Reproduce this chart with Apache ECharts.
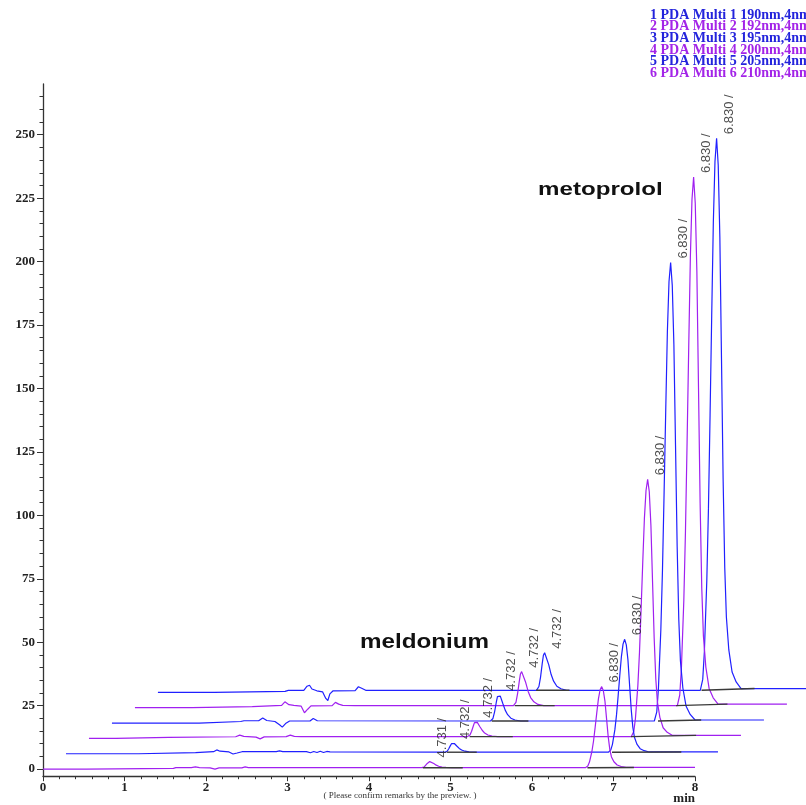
<!DOCTYPE html>
<html><head><meta charset="utf-8">
<script src="https://cdn.jsdelivr.net/npm/echarts@6/dist/echarts.min.js"></script>
<style>html,body{margin:0;padding:0;background:#fff}#c{width:806px;height:805px}</style>
</head><body><div id="c"></div>
<script>
// ---------- DATA (real retention time [min], signal [mAU] relative to each trace) ----------
const traceNames = [
  '1 PDA Multi 1 190nm,4nm',
  '2 PDA Multi 2 192nm,4nm',
  '3 PDA Multi 3 195nm,4nm',
  '4 PDA Multi 4 200nm,4nm',
  '5 PDA Multi 5 205nm,4nm',
  '6 PDA Multi 6 210nm,4nm'
];
const trace1 = [[0,0],[0.69,0],[0.7,0.4],[1.56,0.4],[1.6,0.8],[1.79,0.8],[1.83,2.4],[1.86,2.8],[1.89,1.3],[1.95,0.6],[2.02,0.2],[2.06,-2.4],[2.085,-3.2],[2.11,-0.6],[2.15,0.6],[2.42,0.7],[2.46,2.2],[2.5,1.6],[2.55,0.8],[4.645,0.8],
  [4.675,2.3],[4.695,6.0],[4.715,11.2],[4.73,14.6],[4.745,15.6],[4.765,14.9],[4.795,10.9],[4.825,7.0],[4.855,4.4],[4.895,2.4],[4.945,1.4],[5.015,0.8],[6.655,0.8],
  [6.685,5.1],[6.705,16.0],[6.735,44.2],[6.755,72.4],[6.775,109.3],[6.795,148.4],[6.815,185.3],[6.835,209.1],[6.855,218.4],[6.875,207.7],[6.895,179.4],[6.915,131.7],[6.935,84.0],[6.955,49.2],[6.975,29.7],[7.005,16.7],[7.045,8.0],[7.095,4.1],[7.155,1.5],[8.0,1.5]];
const trace2 = [[0,0],[0.7,0],[0.71,0.4],[1.44,0.4],[1.46,0.9],[1.8,0.9],[1.84,2.3],[1.86,2.6],[1.89,1.2],[1.95,0.9],[2.04,0.6],[2.08,-2.0],[2.1,-2.6],[2.12,-0.6],[2.16,0.7],[2.42,0.8],[2.46,2.1],[2.5,1.4],[2.55,0.9],[2.7,0.8],[4.645,0.8],
  [4.675,2.1],[4.695,5.5],[4.715,10.2],[4.73,13.3],[4.745,14.2],[4.765,13.5],[4.795,9.9],[4.825,6.4],[4.855,4.0],[4.895,2.3],[4.945,1.3],[5.015,0.8],[6.655,0.8],
  [6.685,5.0],[6.705,15.4],[6.735,42.4],[6.755,69.4],[6.775,104.7],[6.795,142.1],[6.815,177.4],[6.835,200.3],[6.855,209.1],[6.875,198.8],[6.895,171.8],[6.915,126.1],[6.935,80.4],[6.955,47.1],[6.975,28.4],[7.005,16.0],[7.045,7.6],[7.095,3.9],[7.155,1.4],[8.0,1.4]];
const trace3 = [[0,0],[1.07,0],[1.09,0.6],[1.58,0.6],[1.62,0.9],[1.8,0.9],[1.85,2.0],[1.9,1.0],[2.0,0.6],[2.06,-0.8],[2.09,-1.6],[2.13,-0.2],[2.18,0.8],[2.43,0.8],[2.47,1.8],[2.52,0.9],[4.645,0.8],
  [4.675,1.8],[4.695,4.4],[4.715,8.0],[4.73,10.4],[4.745,11.1],[4.765,10.6],[4.795,7.8],[4.825,5.1],[4.855,3.3],[4.895,1.9],[4.945,1.2],[5.015,0.8],[6.655,0.8],
  [6.685,4.4],[6.705,13.4],[6.735,36.9],[6.755,60.3],[6.775,91.0],[6.795,123.4],[6.815,154.1],[6.835,173.9],[6.855,181.5],[6.875,172.5],[6.895,149.1],[6.915,109.4],[6.935,69.7],[6.955,40.9],[6.975,24.6],[7.005,13.8],[7.045,6.6],[7.095,3.4],[7.155,1.2],[8.0,1.2]];
const trace4 = [[0,0],[0.33,0],[0.35,0.4],[0.98,0.4],[1.0,0.65],[1.8,0.65],[1.85,1.3],[1.9,0.8],[2.05,0.5],[2.1,-0.2],[2.15,0.6],[2.42,0.7],[2.47,1.3],[2.52,0.8],[2.6,0.7],[4.645,0.7],
  [4.675,1.3],[4.695,2.8],[4.715,4.8],[4.73,6.2],[4.745,6.6],[4.765,6.3],[4.795,4.7],[4.825,3.2],[4.855,2.1],[4.895,1.35],[4.945,0.95],[5.015,0.7],[6.655,0.7],
  [6.685,2.7],[6.705,7.8],[6.735,20.9],[6.755,34.0],[6.775,51.2],[6.795,69.4],[6.815,86.6],[6.835,97.7],[6.855,102.1],[6.875,97.2],[6.895,84.0],[6.915,61.8],[6.935,39.6],[6.955,23.4],[6.975,14.3],[7.005,8.3],[7.045,4.2],[7.095,2.4],[7.155,1.2],[8.0,1.2]];
const trace5 = [[0,0],[0.89,0],[0.91,0.4],[1.59,0.4],[1.61,0.8],[1.81,0.8],[1.85,1.5],[1.89,1.0],[2.0,0.7],[2.05,-0.1],[2.1,0.3],[2.16,0.8],[2.58,0.8],[2.62,1.1],[2.66,0.8],[2.95,0.8],[3.0,0.4],[3.04,0.9],[3.08,0.5],[3.12,1.0],[3.16,0.5],[3.2,0.9],[3.24,0.7],[4.645,0.6],
  [4.675,0.96],[4.695,1.86],[4.715,3.1],[4.73,3.95],[4.745,4.2],[4.765,4.02],[4.795,3.05],[4.825,2.1],[4.855,1.46],[4.895,1.0],[4.945,0.74],[5.015,0.6],[6.655,0.6],
  [6.685,1.5],[6.705,3.7],[6.735,9.5],[6.755,15.3],[6.775,22.8],[6.795,30.8],[6.815,38.3],[6.835,43.2],[6.855,45.1],[6.875,42.9],[6.895,37.1],[6.915,27.3],[6.935,17.6],[6.955,10.5],[6.975,6.5],[7.005,3.8],[7.045,2.0],[7.095,1.2],[7.155,0.7],[8.0,0.7]];
const trace6 = [[0,0],[0.53,0],[0.55,0.3],[1.6,0.3],[1.63,0.6],[1.82,0.6],[1.87,0.9],[1.92,0.6],[2.05,0.5],[2.11,0.0],[2.16,0.5],[2.44,0.5],[2.48,0.9],[2.52,0.55],[4.645,0.55],
  [4.675,0.79],[4.695,1.39],[4.715,2.23],[4.73,2.78],[4.745,2.95],[4.765,2.83],[4.795,2.18],[4.825,1.56],[4.855,1.13],[4.895,0.81],[4.945,0.65],[5.015,0.55],[6.655,0.55],
  [6.685,1.19],[6.705,2.78],[6.735,6.93],[6.755,11.08],[6.775,16.5],[6.795,22.24],[6.815,27.67],[6.835,31.17],[6.855,32.5],[6.875,30.96],[6.895,26.81],[6.915,19.79],[6.935,12.77],[6.955,7.67],[6.975,4.8],[7.005,2.88],[7.045,1.61],[7.095,1.03],[7.155,0.65],[8.0,0.65]];
const traces = [trace1, trace2, trace3, trace4, trace5, trace6];

// integration baselines drawn under the peaks: [[tStart, v], [tEnd, v]]
const meldBaselines = [[[4.64,0.8],[5.05,0.8]],[[4.66,0.8],[5.15,0.8]],[[4.66,0.8],[5.11,0.8]],[[4.67,0.7],[5.2,0.7]],[[4.67,0.6],[5.04,0.6]],[[4.66,0.55],[5.15,0.55]]];
const metBaselines  = [[[6.67,0.8],[7.32,1.5]],[[6.64,0.8],[7.27,1.4]],[[6.7,0.8],[7.23,1.2]],[[6.65,0.7],[7.45,1.2]],[[6.7,0.6],[7.55,0.7]],[[6.68,0.55],[7.25,0.65]]];

// peak retention-time labels
const meldLabels = ['4.732 /','4.732 /','4.732 /','4.732 /','4.732 /','4.731 /'];
const metLabels  = ['6.830 /','6.830 /','6.830 /','6.830 /','6.830 /','6.830 /'];
const meldWindow = [4.6, 5.1];
const metWindow  = [6.6, 7.2];

// axis ticks
const xRange = [0, 8];
const yRange = [-3, 270];
const yMajorTicks = [0,25,50,75,100,125,150,175,200,225,250];
const yMinorTicks = [0,5,10,15,20,25,30,35,40,45,50,55,60,65,70,75,80,85,90,95,100,105,110,115,120,125,130,135,140,145,150,155,160,165,170,175,180,185,190,195,200,205,210,215,220,225,230,235,240,245,250,255,260,265];

// ---------- STYLE / LAYOUT ----------
const X_STEP = 0.282;   // 3D-view horizontal shift per trace (min)
const Y_STEP = 6.05;    // 3D-view vertical shift per trace (mAU)
const lineColors = ['#2020ff','#a020f0','#2020ff','#a020f0','#2020ff','#a020f0'];
const legendColors = ['#2424dc','#a324e8','#2424dc','#a324e8','#2424dc','#a324e8'];
const serif = '"Liberation Serif","Times New Roman",serif';
const sans = '"Liberation Sans",Arial,sans-serif';
const PLOT_LEFT = 43, PLOT_TOP = 84, PLOT_BOTTOM = 28.3, AXIS_WIDTH = 652;
const PX_PER_MIN = AXIS_WIDTH / (xRange[1] - xRange[0]);
const DATA_XMAX = (806 - PLOT_LEFT) / PX_PER_MIN; // the offset traces run past the 8-min axis end

function shift(k) { return p => [p[0] + k * X_STEP, p[1] + k * Y_STEP]; }
function apex(tr, win) {
  let best = null;
  tr.forEach(p => { if (p[0] >= win[0] && p[0] <= win[1] && (!best || p[1] > best[1])) best = p; });
  return best;
}

const series = [];
traces.forEach((tr, i) => {
  const k = traces.length - 1 - i;
  series.push({
    type: 'line', name: traceNames[i], data: tr.map(shift(k)), xAxisIndex: 0, yAxisIndex: 0,
    showSymbol: false, symbol: 'none', clip: false, silent: true,
    lineStyle: { color: lineColors[i], width: 1.2 }, itemStyle: { color: lineColors[i] }, z: 2
  });
});
traces.forEach((tr, i) => {
  const k = traces.length - 1 - i;
  [meldBaselines[i], metBaselines[i]].forEach(seg => {
    series.push({
      type: 'line', data: seg.map(shift(k)), xAxisIndex: 0, yAxisIndex: 0,
      showSymbol: false, symbol: 'none', clip: false, silent: true,
      lineStyle: { color: '#3a3a3a', width: 1.4 }, z: 3
    });
  });
});
const labelData = [];
traces.forEach((tr, i) => {
  const k = traces.length - 1 - i;
  labelData.push({ value: shift(k)(apex(tr, meldWindow)), name: meldLabels[i] });
  labelData.push({ value: shift(k)(apex(tr, metWindow)), name: metLabels[i] });
});
series.push({
  type: 'scatter', data: labelData, symbolSize: 1, clip: false, silent: true, xAxisIndex: 0, yAxisIndex: 0,
  itemStyle: { color: 'rgba(0,0,0,0)' }, z: 4,
  label: { show: true, formatter: '{b}', rotate: 90, position: [13, -3.5], align: 'left', verticalAlign: 'middle',
           fontFamily: sans, fontSize: 13, color: '#222' }
});

const chart = echarts.init(document.getElementById('c'), null, { renderer: 'canvas' });
chart.setOption({
  animation: false,
  backgroundColor: '#fff',
  grid: [
    { left: PLOT_LEFT, right: 0, top: PLOT_TOP, bottom: PLOT_BOTTOM, containLabel: false, outerBoundsMode: 'none' },
    { left: PLOT_LEFT, width: AXIS_WIDTH, top: PLOT_TOP, bottom: PLOT_BOTTOM, containLabel: false, outerBoundsMode: 'none' }
  ],
  legend: {
    orient: 'vertical', left: 645, top: 8, icon: 'none', itemWidth: 0, itemHeight: 8, itemGap: -2.3,
    selectedMode: false, padding: 0,
    textStyle: { fontFamily: serif, fontWeight: 'bold', fontSize: 14 },
    data: traceNames.map((n, i) => ({ name: n, textStyle: { color: legendColors[i] } }))
  },
  xAxis: [
    { type: 'value', gridIndex: 0, min: xRange[0], max: DATA_XMAX, show: false },
    {
      type: 'value', gridIndex: 1, min: xRange[0], max: xRange[1], interval: 1,
      axisLine: { onZero: false, lineStyle: { color: '#333', width: 1.3 } },
      axisTick: { show: true, length: 4.5, lineStyle: { color: '#333' } },
      minorTick: { show: true, splitNumber: 5, length: 2.5, lineStyle: { color: '#333' } },
      axisLabel: { margin: 4, fontFamily: serif, fontWeight: 'bold', fontSize: 13, color: '#222' },
      splitLine: { show: false }, minorSplitLine: { show: false }
    }
  ],
  yAxis: [
    { type: 'value', gridIndex: 0, min: yRange[0], max: yRange[1], show: false },
    {
      type: 'value', gridIndex: 1, min: yRange[0], max: yRange[1], position: 'left',
      axisLine: { show: true, onZero: false, lineStyle: { color: '#333', width: 1.3 } },
      axisTick: { show: true, customValues: yMajorTicks, length: 6, lineStyle: { color: '#333' } },
      axisLabel: { customValues: yMajorTicks, margin: 8, fontFamily: serif, fontWeight: 'bold', fontSize: 13, color: '#222' },
      splitLine: { show: false }
    },
    {
      type: 'value', gridIndex: 1, min: yRange[0], max: yRange[1], position: 'left',
      axisLine: { show: false, onZero: false },
      axisTick: { show: true, customValues: yMinorTicks, length: 3.5, lineStyle: { color: '#333' } },
      axisLabel: { show: false }, splitLine: { show: false }
    }
  ],
  graphic: [
    { type: 'text', x: 360, y: 642.4, scaleX: 1.21, silent: true,
      style: { text: 'meldonium', x: 0, y: 0, font: 'bold 20px ' + sans, fill: '#111', align: 'left', verticalAlign: 'middle', textAlign: 'left', textVerticalAlign: 'middle' } },
    { type: 'text', x: 538, y: 190.1, scaleX: 1.27, silent: true,
      style: { text: 'metoprolol', x: 0, y: 0, font: 'bold 19px ' + sans, fill: '#111', align: 'left', verticalAlign: 'middle', textAlign: 'left', textVerticalAlign: 'middle' } },
    { type: 'text', x: 695, y: 799, silent: true,
      style: { text: 'min', x: 0, y: 0, font: 'bold 13px ' + serif, fill: '#222', align: 'right', verticalAlign: 'middle', textAlign: 'right', textVerticalAlign: 'middle' } },
    { type: 'text', x: 400, y: 796, silent: true,
      style: { text: '( Please confirm remarks by the preview. )', x: 0, y: 0, font: '9px ' + serif, fill: '#333', align: 'center', verticalAlign: 'middle', textAlign: 'center', textVerticalAlign: 'middle' } }
  ],
  series: series
});
</script>
</body></html>
